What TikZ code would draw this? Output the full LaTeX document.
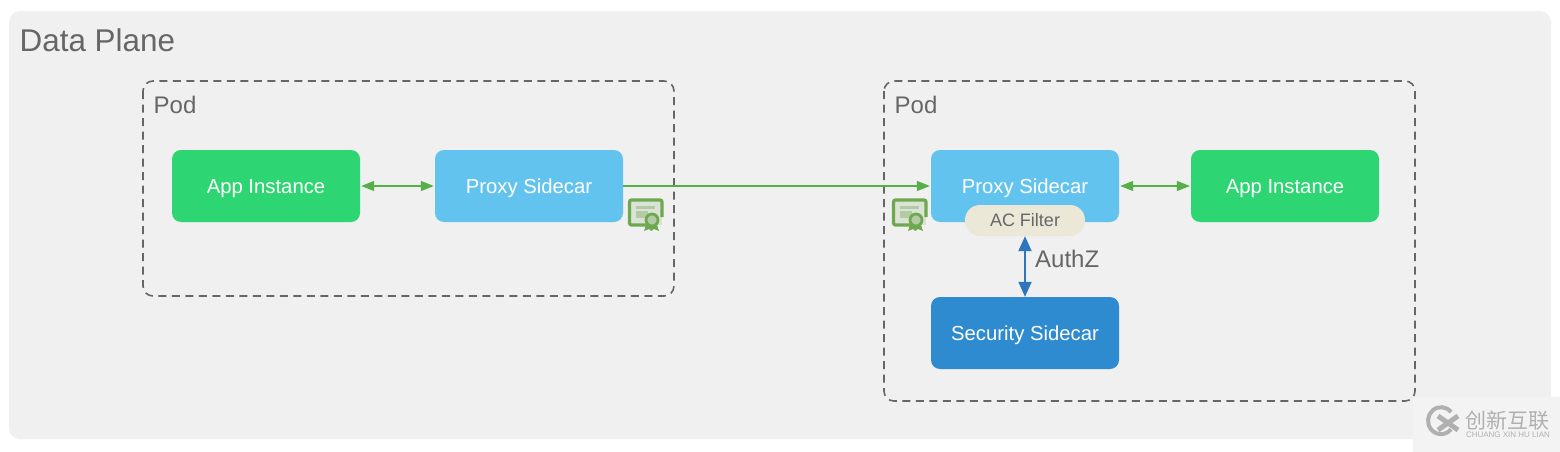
\documentclass[tikz,border=0pt]{standalone}
\usepackage{fontspec}
\setmainfont{Liberation Sans}
\newfontfamily\cjkfont{Noto Sans CJK SC}
\usetikzlibrary{arrows.meta}

\definecolor{PlaneGray}{HTML}{F0F0F0}
\definecolor{MarkGray}{HTML}{F3F3F3}
\definecolor{TextGray}{HTML}{666666}
\definecolor{AppGreen}{HTML}{2ED573}
\definecolor{ProxyBlue}{HTML}{62C3EE}
\definecolor{SecurityBlue}{HTML}{2E8BD0}
\definecolor{FilterBeige}{HTML}{ECE8D8}
\definecolor{LinkGreen}{HTML}{55B047}
\definecolor{AuthBlue}{HTML}{2F74BE}
\definecolor{CertGreen}{HTML}{6FA94F}
\definecolor{CertPale}{HTML}{B3CBA5}
\definecolor{LogoGray}{HTML}{B0B0B0}

\tikzset{
 BoxStyle/.style = {
  shape = rectangle,
  rounded corners = 9pt,
  minimum width = 188pt,
  minimum height = 72pt,
  inner sep = 0pt,
  text = white,
  text height = 15pt,
  text depth = 1pt,
  font = \fontsize{20.3}{24}\selectfont},
 PodStyle/.style = {
  draw = TextGray,
  line width = 1.6pt,
  rounded corners = 10pt,
  dash pattern = on 8pt off 5.5pt},
 LabelStyle/.style = {
  anchor = west,
  inner sep = 0pt,
  text = TextGray},
 LinkStyle/.style = {
  draw = LinkGreen,
  line width = 1.3pt,
  {Triangle[length=13pt,width=10pt]}-{Triangle[length=13pt,width=10pt]},
  shorten >= 1pt, shorten <= 1pt},
 CertIcon/.pic = {
  \fill[CertPale!35!PlaneGray] (1,1) rectangle (34,27);
  \draw[CertGreen, line width=3.2pt, rounded corners=2pt] (26,27) -- (1.5,27) -- (1.5,2) -- (34,2) -- (34,19);
  \fill[CertPale] (8,8) rectangle (27,11);
  \fill[CertPale] (8,13) rectangle (20,20);
  \fill[CertGreen] (18,27) -- (16,33) -- (21,31) -- (23,33) -- (26,31) -- (31,33) -- (29,27) -- cycle;
  \draw[CertGreen, line width=2.8pt, fill=CertPale] (24,22) circle (6);
 }
}

\begin{document}
\begin{tikzpicture}[x=1pt, y=-1pt]
\useasboundingbox (0,0) rectangle (1560,452);

\fill[white] (0,0) rectangle (1560,452);
\fill[PlaneGray, rounded corners=11pt] (9,11) rectangle (1551,439);

\node[LabelStyle, font=\fontsize{31.4}{38}\selectfont] (PlaneLabel) at (19.5,40) {Data Plane};

\draw[PodStyle] (143,81) rectangle (674,296);
\draw[PodStyle] (884,81) rectangle (1415,401);
\node[LabelStyle, font=\fontsize{24}{29}\selectfont] (PodLabel1) at (153.5,105) {Pod};
\node[LabelStyle, font=\fontsize{24}{29}\selectfont] (PodLabel2) at (894.5,105) {Pod};

\node[BoxStyle, fill=AppGreen] (App1) at (266,186) {App Instance};
\node[BoxStyle, fill=ProxyBlue] (Proxy1) at (529,186) {Proxy Sidecar};
\node[BoxStyle, fill=ProxyBlue] (Proxy2) at (1025,186) {Proxy Sidecar};
\node[BoxStyle, fill=AppGreen] (App2) at (1285,186) {App Instance};
\node[BoxStyle, fill=SecurityBlue] (Security) at (1025,333) {Security Sidecar};
\node[shape=rectangle, rounded corners=15pt, fill=FilterBeige, text=TextGray,
 minimum width=120pt, minimum height=31pt, inner sep=0pt, text height=12pt, text depth=1pt,
 font=\fontsize{18}{22}\selectfont] (Filter) at (1025,220.5) {AC Filter};

\draw[LinkStyle] (App1) -- (Proxy1);
\draw[LinkStyle, -{Triangle[length=13pt,width=10pt]}, shorten <=0pt] (Proxy1) -- (Proxy2);
\draw[LinkStyle] (Proxy2) -- (App2);
\draw[LinkStyle, draw=AuthBlue, fill=AuthBlue, line width=2pt, {Triangle[length=15pt,width=13pt]}-{Triangle[length=15pt,width=13pt]}, shorten <=0pt, shorten >=0pt] (Filter) -- (Security);
\node[LabelStyle, font=\fontsize{24}{29}\selectfont] (AuthLabel) at (1035,259) {AuthZ};

\pic at (628,198) {CertIcon};
\pic at (892,198) {CertIcon};

\fill[MarkGray] (1413,397) rectangle (1560,452);
\draw[LogoGray, line width=4pt] (1451,412) arc (-40:-320:13 and 13.5);
\draw[LogoGray, line width=5pt] (1438,416) -- (1458,430);
\draw[LogoGray, line width=5pt] (1438,430) -- (1458,416);
\node[inner sep=0pt, text=LogoGray, font=\cjkfont\fontsize{21}{24}\selectfont] (MarkTitle) at (1507,420.5) {创新互联};
\node[inner sep=0pt, text=LogoGray, font=\fontsize{8}{9}\selectfont] (MarkSub) at (1508,435) {CHUANG XIN HU LIAN};

\end{tikzpicture}
\end{document}
